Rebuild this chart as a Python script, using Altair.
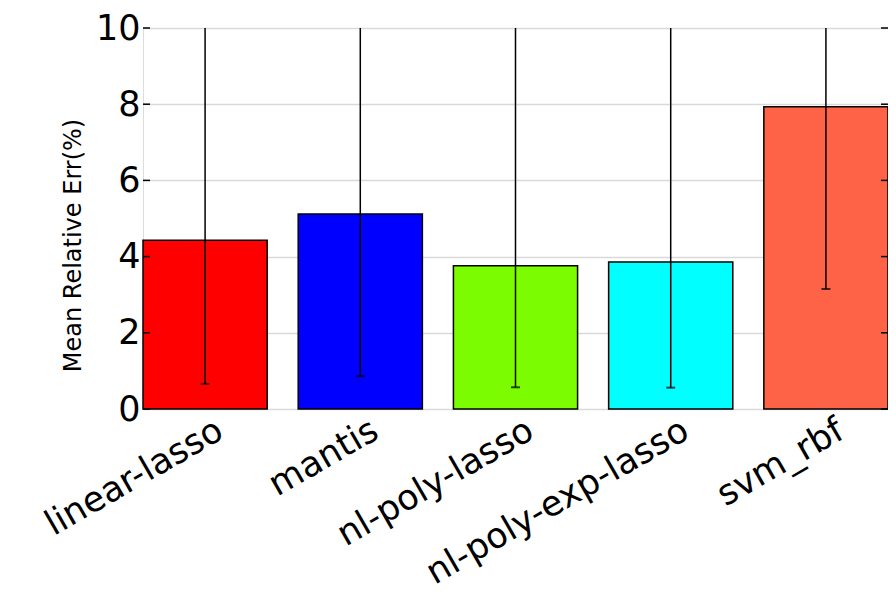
import altair as alt
import pandas as pd

categories = ["linear-lasso", "mantis", "nl-poly-lasso", "nl-poly-exp-lasso", "svm_rbf"]
mean_err = [4.43, 5.12, 3.76, 3.86, 7.93]
err_low = [0.66, 0.86, 0.57, 0.56, 3.15]
err_high = [10.0, 10.0, 10.0, 10.0, 10.0]
colors = ["#ff0000", "#0000ff", "#7cfc00", "#00ffff", "#ff6347"]
y_ticks = [0, 2, 4, 6, 8, 10]

df = pd.DataFrame({"cat": categories, "mean": mean_err, "low": err_low, "high": err_high})
ticks_df = pd.DataFrame({"t": y_ticks})

FONT = "DejaVu Sans"

x_enc = alt.X(
    "cat:N",
    sort=categories,
    scale=alt.Scale(paddingInner=0.2, paddingOuter=0),
    axis=alt.Axis(
        title=None,
        labelAngle=-30,
        labelAlign="right",
        labelBaseline="middle",
        labelFontSize=35,
        labelFont=FONT,
        labelColor="black",
        labelPadding=18,
        labelOffset=15,
        labelLimit=500,
        labelOverlap=False,
        ticks=False,
        domain=False,
        grid=False,
    ),
)

y_scale = alt.Scale(domain=[0, 10], nice=False)

bars = alt.Chart(df).mark_bar(stroke="black", strokeWidth=1.5).encode(
    x=x_enc,
    y=alt.Y(
        "mean:Q",
        scale=y_scale,
        axis=alt.Axis(
            values=y_ticks,
            title="Mean Relative Err(%)",
            titleFont=FONT,
            titleFontSize=24,
            titleFontWeight="normal",
            titleColor="black",
            titleAngle=-90,
            titleX=-70,
            titleY=217,
            titleAlign="center",
            titleBaseline="middle",
            labelFont=FONT,
            labelFontSize=35,
            labelColor="black",
            labelPadding=3,
            ticks=False,
            domain=False,
            grid=True,
            gridColor="#d9d9d9",
            gridWidth=1.5,
        ),
    ),
    color=alt.Color("cat:N", scale=alt.Scale(domain=categories, range=colors), legend=None),
)

err = alt.Chart(df).mark_rule(color="black", strokeWidth=1.5, clip=True).encode(
    x=alt.X("cat:N", sort=categories),
    y=alt.Y("low:Q", scale=y_scale),
    y2="high:Q",
)

caps = alt.Chart(df).mark_tick(color="black", size=9, thickness=2).encode(
    x=alt.X("cat:N", sort=categories),
    y=alt.Y("low:Q", scale=y_scale),
)

left_ticks = alt.Chart(ticks_df).mark_rule(color="black", strokeWidth=1.5).encode(
    x=alt.value(0), x2=alt.value(7), y=alt.Y("t:Q", scale=y_scale)
)
right_ticks = alt.Chart(ticks_df).mark_rule(color="black", strokeWidth=1.5).encode(
    x=alt.value(738), x2=alt.value(745), y=alt.Y("t:Q", scale=y_scale)
)

chart = alt.layer(bars, err, caps, left_ticks, right_ticks).properties(
    width=745,
    height=381,
    autosize=alt.AutoSizeParams(type="none"),
    padding={"left": 135, "top": 20, "right": 0, "bottom": 186},
).configure_view(
    stroke="black", strokeWidth=1.5
).configure(background="white")

chart.save("out.html", embed_options={"renderer": "svg", "actions": False})
